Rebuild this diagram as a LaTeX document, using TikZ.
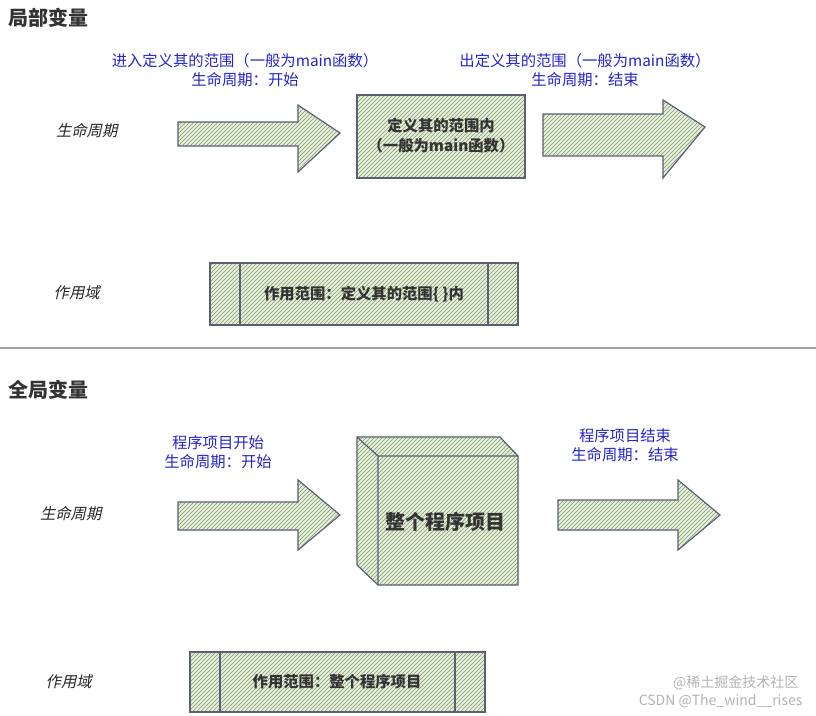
\documentclass[tikz,border=0pt]{standalone}
\usepackage{fontspec}
\setmainfont{Noto Sans CJK SC}
\newfontfamily\cjk{Noto Sans CJK SC}
\usetikzlibrary{patterns}
\definecolor{hatch}{HTML}{7E9C6A}
\definecolor{fillg}{HTML}{E6EEDD}
\definecolor{edge}{HTML}{5A6070}
\definecolor{lbl}{HTML}{2424C8}
\tikzset{
  sk/.style={draw=edge,line width=0.9pt,preaction={fill=fillg},pattern={north east lines},pattern color=hatch},
  blue/.style={text=lbl,font=\fontsize{11.5}{14}\selectfont,align=center},
  it/.style={font=\fontsize{11.5}{14}\selectfont,text=black!85,xslant=0.22,transform shape},
  ttl/.style={font=\fontsize{15}{18}\selectfont\bfseries,text=black!80,anchor=west},
  inb/.style={font=\fontsize{11.5}{15}\selectfont\bfseries,text=black!80,align=center}
}
\begin{document}
\begin{tikzpicture}[x=0.75pt,y=-0.75pt]
\useasboundingbox (0,0) rectangle (816,716);
\node[ttl] (t1) at (4,18) {局部变量};
\node[blue] (l1) at (245,70) {进入定义其的范围（一般为main函数）\\生命周期：开始};
\node[blue] (l2) at (585,70) {出定义其的范围（一般为main函数）\\生命周期：结束};
\node[it] (s1) at (88,131) {生命周期};
\draw[sk] (178,122) -- (298,122) -- (298,105) -- (340,133) -- (298,172) -- (298,146) -- (178,146) -- cycle;
\draw[sk] (357,95) rectangle (525,178);
\node[inb] (b1) at (441,136) {定义其的范围内\\（一般为main函数）};
\draw[sk] (543,114) -- (663,114) -- (663,100) -- (705,127) -- (663,178) -- (663,156) -- (543,156) -- cycle;
\node[it] (s2) at (78,293) {作用域};
\draw[sk] (210,263) rectangle (518,325);
\draw[edge,line width=0.9pt] (240,263) -- (240,325) (488,263) -- (488,325);
\node[inb] (p1) at (364,294) {作用范围：定义其的范围\{ \}内};
\draw[edge!60,line width=0.8pt] (0,348) -- (816,348);
\node[ttl] (t2) at (4,390) {全局变量};
\node[blue] (l3) at (218,452) {程序项目开始\\生命周期：开始};
\node[blue] (l4) at (625,445) {程序项目结束\\生命周期：结束};
\node[it] (s3) at (72,514) {生命周期};
\draw[sk] (178,502) -- (298,502) -- (298,480) -- (340,515) -- (298,550) -- (298,530) -- (178,530) -- cycle;
\draw[sk] (357,437) -- (500,437) -- (518,456) -- (518,585) -- (378,585) -- (357,565) -- cycle;
\draw[edge,line width=0.9pt] (357,437) -- (378,456) -- (518,456) (378,456) -- (378,585);
\node[inb,font=\fontsize{15}{18}\selectfont\bfseries] (b2) at (445,522) {整个程序项目};
\draw[sk] (558,500) -- (678,500) -- (678,480) -- (720,515) -- (678,550) -- (678,530) -- (558,530) -- cycle;
\node[it] (s4) at (70,682) {作用域};
\draw[sk] (190,652) rectangle (485,712);
\draw[edge,line width=0.9pt] (220,652) -- (220,712) (455,652) -- (455,712);
\node[inb] (p2) at (337,682) {作用范围：整个程序项目};
\node[text=gray!60,font=\fontsize{10.5}{12}\selectfont,anchor=east,inner sep=1pt] (w1) at (800,683) {@稀土掘金技术社区};
\node[text=gray!60,font=\fontsize{10.5}{12}\selectfont,anchor=east,inner sep=1pt] (w2) at (804,701) {CSDN @The\_wind\_\_rises};
\end{tikzpicture}
\end{document}
